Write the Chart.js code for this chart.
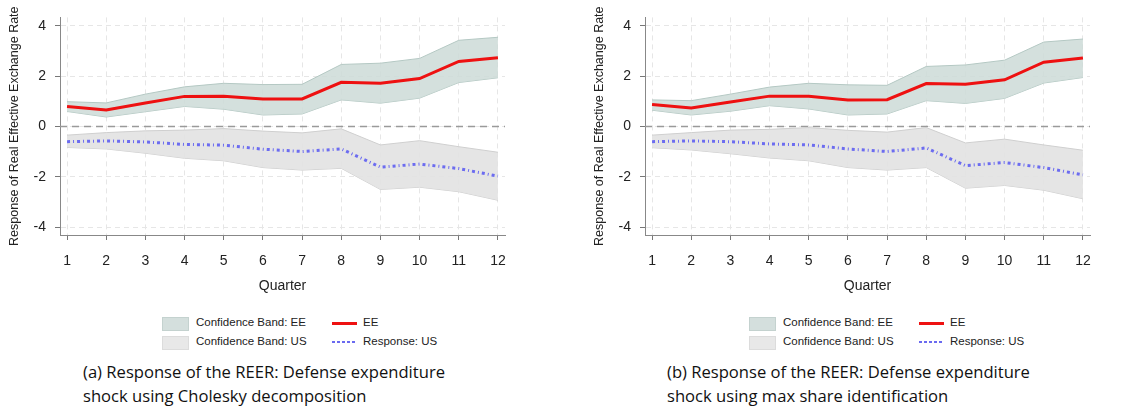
<!DOCTYPE html>
<html>
<head>
<meta charset="utf-8">
<script src="https://cdn.jsdelivr.net/npm/chart.js@4.4.1/dist/chart.umd.min.js"></script>
<style>
  body { margin: 0; background: #fff; width: 1134px; height: 409px; position: relative; overflow: hidden; }
  .panel { position: absolute; top: 0; width: 530px; height: 300px; }
  .legend { position: absolute; top: 314px; font: 11.5px "Liberation Sans", Helvetica, Arial, sans-serif; color: #222; }
  .row { position: relative; height: 19px; }
  .sw { position: absolute; top: 3px; width: 25px; height: 12px; }
  .lab { position: absolute; top: 2px; white-space: nowrap; }
  .caption { position: absolute; top: 360px; font: 16.6px "Open Sans", sans-serif; color: #111; line-height: 23.5px; }
</style>
</head>
<body>
<div class="panel" style="left:0"><canvas id="chartA"></canvas></div>
<div class="panel" style="left:585px"><canvas id="chartB"></canvas></div>

<div class="legend" style="left:162px">
  <div class="row">
    <div class="sw" style="left:0;background:#d4dfdd;border:1px solid #c4d2cf"></div>
    <div class="lab" style="left:34px">Confidence Band: EE</div>
    <div class="sw" style="left:170px;top:8px;height:3px;width:25px;background:#ee1111"></div>
    <div class="lab" style="left:201px">EE</div>
  </div>
  <div class="row">
    <div class="sw" style="left:0;background:#e8e8e8;border:1px solid #dcdcdc"></div>
    <div class="lab" style="left:34px">Confidence Band: US</div>
    <div class="sw" style="left:170px;top:8px;height:2px;width:25px;background:repeating-linear-gradient(90deg,#6a6af0 0 3px,transparent 3px 5px)"></div>
    <div class="lab" style="left:201px">Response: US</div>
  </div>
</div>
<div class="legend" style="left:749px">
  <div class="row">
    <div class="sw" style="left:0;background:#d4dfdd;border:1px solid #c4d2cf"></div>
    <div class="lab" style="left:34px">Confidence Band: EE</div>
    <div class="sw" style="left:170px;top:8px;height:3px;width:25px;background:#ee1111"></div>
    <div class="lab" style="left:201px">EE</div>
  </div>
  <div class="row">
    <div class="sw" style="left:0;background:#e8e8e8;border:1px solid #dcdcdc"></div>
    <div class="lab" style="left:34px">Confidence Band: US</div>
    <div class="sw" style="left:170px;top:8px;height:2px;width:25px;background:repeating-linear-gradient(90deg,#6a6af0 0 3px,transparent 3px 5px)"></div>
    <div class="lab" style="left:201px">Response: US</div>
  </div>
</div>

<div class="caption" style="left:83px">(a) Response of the REER: Defense expenditure<br>shock using Cholesky decomposition</div>
<div class="caption" style="left:667px">(b) Response of the REER: Defense expenditure<br>shock using max share identification</div>

<script>
// quarters on the x axis
const quarters = [1, 2, 3, 4, 5, 6, 7, 8, 9, 10, 11, 12];
const yTicks = [-4, -2, 0, 2, 4];

// (a) Cholesky
const eeA   = [0.80, 0.66, 0.94, 1.20, 1.21, 1.10, 1.10, 1.76, 1.72, 1.91, 2.59, 2.74];
const eeHiA = [0.99, 0.94, 1.29, 1.58, 1.72, 1.67, 1.68, 2.47, 2.52, 2.71, 3.43, 3.55];
const eeLoA = [0.60, 0.38, 0.59, 0.80, 0.69, 0.46, 0.50, 1.06, 0.93, 1.13, 1.75, 1.94];
const usA   = [-0.60, -0.57, -0.61, -0.71, -0.74, -0.90, -0.99, -0.89, -1.61, -1.49, -1.67, -1.97];
const usHiA = [-0.34, -0.24, -0.17, -0.14, -0.08, -0.18, -0.25, -0.09, -0.73, -0.56, -0.80, -1.02];
const usLoA = [-0.83, -0.89, -1.06, -1.26, -1.36, -1.63, -1.73, -1.66, -2.50, -2.41, -2.59, -2.93];

// (b) max share
const eeB   = [0.88, 0.74, 0.98, 1.21, 1.21, 1.06, 1.07, 1.71, 1.68, 1.86, 2.56, 2.73];
const eeHiB = [1.06, 1.03, 1.29, 1.57, 1.72, 1.66, 1.64, 2.39, 2.45, 2.64, 3.36, 3.48];
const eeLoB = [0.65, 0.46, 0.61, 0.83, 0.70, 0.46, 0.50, 1.03, 0.92, 1.12, 1.73, 1.95];
const usB   = [-0.60, -0.57, -0.60, -0.69, -0.73, -0.89, -0.99, -0.85, -1.55, -1.43, -1.63, -1.92];
const usHiB = [-0.34, -0.24, -0.14, -0.11, -0.04, -0.15, -0.22, -0.04, -0.65, -0.50, -0.73, -0.94];
const usLoB = [-0.84, -0.93, -1.08, -1.25, -1.36, -1.63, -1.73, -1.63, -2.45, -2.34, -2.53, -2.87];

const pts = (arr) => arr.map((v, i) => ({ x: quarters[i], y: v }));

// dashed line at zero
const zeroLine = {
  id: "zeroLine",
  beforeDatasetsDraw(chart) {
    const { ctx, chartArea, scales } = chart;
    const y = scales.y.getPixelForValue(0);
    ctx.save();
    ctx.strokeStyle = "#9a9a9a";
    ctx.lineWidth = 1.5;
    ctx.setLineDash([7, 5]);
    ctx.beginPath();
    ctx.moveTo(chartArea.left, y);
    ctx.lineTo(chartArea.right, y);
    ctx.stroke();
    ctx.restore();
  },
};

Chart.defaults.font.family = "'Liberation Sans', Helvetica, Arial, sans-serif";

function makeChart(id, ee, eeHi, eeLo, us, usHi, usLo) {
  return new Chart(document.getElementById(id).getContext("2d"), {
    type: "line",
    data: {
      datasets: [
        { label: "EE", data: pts(ee), borderColor: "#ee1111", borderWidth: 3, pointRadius: 0, fill: false, order: 0 },
        { label: "Response: US", data: pts(us), borderColor: "#6c6cf0", borderWidth: 3, borderDash: [3, 3, 1, 3], pointRadius: 0, fill: false, order: 0 },
        { label: "Confidence Band: EE", data: pts(eeHi), borderColor: "#b4c8c3", borderWidth: 1, backgroundColor: "rgba(205,218,215,0.85)", pointRadius: 0, fill: "+1", order: 1 },
        { label: "ee lo", data: pts(eeLo), borderColor: "#b4c8c3", borderWidth: 1, pointRadius: 0, fill: false, order: 1 },
        { label: "Confidence Band: US", data: pts(usHi), borderColor: "#cfcfcf", borderWidth: 1, backgroundColor: "rgba(226,226,226,0.9)", pointRadius: 0, fill: "+1", order: 1 },
        { label: "us lo", data: pts(usLo), borderColor: "#cfcfcf", borderWidth: 1, pointRadius: 0, fill: false, order: 1 },
      ],
    },
    options: {
      responsive: false,
      animation: false,
      layout: { padding: { top: 9, right: 25, left: 0, bottom: 0 } },
      plugins: { legend: { display: false }, tooltip: { enabled: false } },
      scales: {
        x: {
          type: "linear",
          min: 0.82,
          max: 12.18,
          afterBuildTicks: (axis) => { axis.ticks = quarters.map((v) => ({ value: v })); },
          afterFit: (s) => { s.height = 65; },
          grid: { color: "#e6e6e6", lineWidth: 1, drawTicks: true, tickLength: 5, tickColor: "#777", tickBorderDash: [] },
          border: { color: "#888", width: 1, dash: [5, 4] },
          ticks: { color: "#222", padding: 13, maxRotation: 0, font: { size: 14 } },
          title: { display: true, text: "Quarter", color: "#222", padding: { top: 0, bottom: 5 }, font: { size: 14 } },
        },
        y: {
          min: -4.31,
          max: 4.34,
          afterBuildTicks: (axis) => { axis.ticks = yTicks.map((v) => ({ value: v })); },
          afterFit: (s) => { s.width = 60; },
          grid: { color: "#e6e6e6", lineWidth: 1, drawTicks: true, tickLength: 5, tickColor: "#777", tickBorderDash: [] },
          border: { color: "#888", width: 1, dash: [5, 4] },
          ticks: { color: "#222", padding: 9, font: { size: 14 } },
          title: { display: true, text: "Response of Real Effective Exchange Rate", color: "#222", padding: { top: 7, bottom: 0 }, font: { size: 12.5 } },
        },
      },
    },
    plugins: [zeroLine],
  });
}

document.getElementById("chartA").width = 530;
document.getElementById("chartA").height = 300;
document.getElementById("chartB").width = 530;
document.getElementById("chartB").height = 300;

makeChart("chartA", eeA, eeHiA, eeLoA, usA, usHiA, usLoA);
makeChart("chartB", eeB, eeHiB, eeLoB, usB, usHiB, usLoB);
</script>
</body>
</html>
